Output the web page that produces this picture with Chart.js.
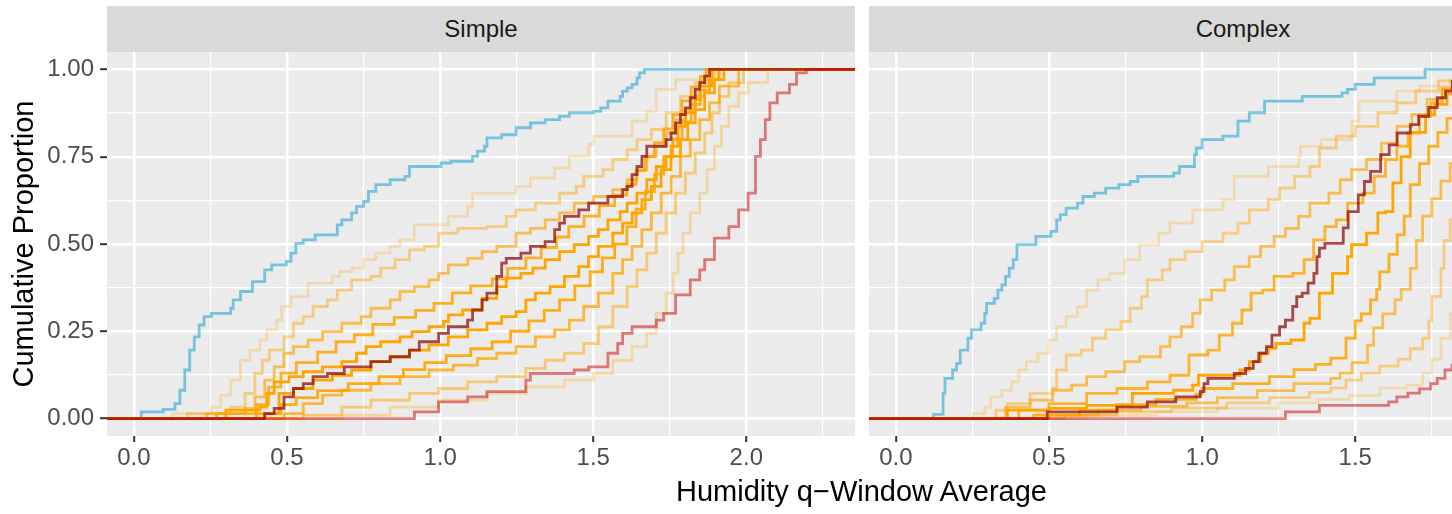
<!DOCTYPE html>
<html>
<head>
<meta charset="utf-8">
<script src="https://cdn.jsdelivr.net/npm/chart.js@4/dist/chart.umd.min.js"></script>
<style>
  html, body { margin: 0; padding: 0; background: #fff; overflow: hidden; }
  #wrap { position: relative; width: 1452px; height: 514px; overflow: hidden; font-family: "Liberation Sans", Arial, sans-serif; }
  canvas { position: absolute; top: 0; }
  .strip { position: absolute; top: 6px; height: 46px; width: 748px; background: #D9D9D9; color: #1A1A1A;
           font-size: 24px; line-height: 46px; text-align: center; }
  #xtitle { position: absolute; left: 461px; width: 801px; top: 474px; height: 34px; line-height: 34px;
            font-size: 29px; color: #000; text-align: center; white-space: nowrap; }
</style>
</head>
<body>
<div id="wrap">
  <div class="strip" style="left:107px">Simple</div>
  <div class="strip" style="left:869px">Complex</div>
  <canvas id="simpleChart" width="862" height="514" style="left:0"></canvas>
  <canvas id="complexChart" width="762" height="514" style="left:862px"></canvas>
  <div id="xtitle">Humidity q−Window Average</div>
</div>
<script>
// axis ticks
const xTicks = [0, 0.5, 1, 1.5, 2];
const xMinor = [0.25, 0.75, 1.25, 1.75, 2.25];
const yTicks = [0, 0.25, 0.5, 0.75, 1];
const yMinor = [0.125, 0.375, 0.625, 0.875];

// Simple panel: ECDF steps [x, cumulative proportion]
const simpleBlue = [[0.024,0.019],[0.095,0.026],[0.134,0.043],[0.150,0.081],[0.166,0.139],[0.182,0.196],[0.197,0.234],[0.213,0.268],[0.229,0.292],[0.253,0.301],[0.316,0.316],[0.324,0.340],[0.348,0.364],[0.387,0.392],[0.427,0.426],[0.450,0.440],[0.498,0.450],[0.513,0.474],[0.529,0.502],[0.553,0.512],[0.592,0.526],[0.664,0.555],[0.679,0.569],[0.711,0.589],[0.727,0.608],[0.750,0.622],[0.766,0.651],[0.790,0.670],[0.837,0.684],[0.885,0.694],[0.900,0.722],[1.003,0.732],[1.035,0.737],[1.106,0.751],[1.122,0.766],[1.145,0.780],[1.153,0.804],[1.201,0.813],[1.248,0.833],[1.295,0.847],[1.343,0.856],[1.390,0.866],[1.422,0.876],[1.501,0.880],[1.525,0.890],[1.548,0.909],[1.588,0.923],[1.596,0.938],[1.611,0.947],[1.627,0.957],[1.643,0.976],[1.651,0.990],[1.667,1.0]];
const simpleRed = [[0.916,0.019],[0.995,0.048],[1.090,0.062],[1.153,0.077],[1.280,0.110],[1.295,0.129],[1.438,0.139],[1.485,0.148],[1.548,0.187],[1.580,0.215],[1.596,0.244],[1.627,0.263],[1.706,0.282],[1.730,0.301],[1.769,0.354],[1.817,0.397],[1.848,0.426],[1.864,0.455],[1.896,0.517],[1.943,0.550],[1.975,0.598],[2.006,0.646],[2.030,0.751],[2.046,0.799],[2.062,0.856],[2.077,0.904],[2.101,0.933],[2.141,0.957],[2.164,0.990],[2.196,1.0]];
const simpleDarkRed = [[0.427,0.014],[0.458,0.029],[0.490,0.062],[0.521,0.086],[0.553,0.100],[0.585,0.120],[0.632,0.129],[0.687,0.148],[0.774,0.163],[0.837,0.177],[0.900,0.196],[0.932,0.220],[0.995,0.244],[1.027,0.263],[1.090,0.282],[1.106,0.311],[1.137,0.340],[1.153,0.359],[1.185,0.407],[1.201,0.445],[1.216,0.459],[1.264,0.474],[1.295,0.493],[1.343,0.507],[1.374,0.541],[1.390,0.560],[1.406,0.579],[1.453,0.598],[1.485,0.617],[1.548,0.636],[1.596,0.656],[1.611,0.665],[1.627,0.699],[1.643,0.722],[1.659,0.751],[1.675,0.780],[1.738,0.799],[1.754,0.818],[1.769,0.847],[1.785,0.871],[1.801,0.890],[1.817,0.919],[1.833,0.943],[1.848,0.962],[1.864,0.981],[1.880,1.0]];
const simpleOrange1 = [[0.126,0.014],[0.253,0.033],[0.284,0.067],[0.316,0.110],[0.348,0.167],[0.379,0.196],[0.411,0.225],[0.434,0.254],[0.466,0.282],[0.482,0.321],[0.513,0.349],[0.569,0.388],[0.648,0.407],[0.671,0.421],[0.711,0.431],[0.750,0.455],[0.790,0.474],[0.837,0.493],[0.869,0.512],[0.916,0.555],[1.027,0.579],[1.090,0.608],[1.106,0.646],[1.248,0.665],[1.295,0.689],[1.374,0.718],[1.422,0.751],[1.485,0.785],[1.501,0.809],[1.627,0.852],[1.675,0.880],[1.706,0.943],[1.769,0.971],[1.864,1.0]];
const simpleOrange2 = [[0.174,0.014],[0.316,0.033],[0.363,0.072],[0.395,0.129],[0.419,0.167],[0.442,0.196],[0.490,0.234],[0.521,0.273],[0.553,0.292],[0.585,0.321],[0.632,0.340],[0.664,0.368],[0.711,0.397],[0.774,0.407],[0.806,0.431],[0.853,0.455],[0.900,0.483],[0.948,0.493],[0.995,0.531],[1.058,0.545],[1.153,0.550],[1.216,0.579],[1.248,0.598],[1.311,0.617],[1.390,0.646],[1.445,0.665],[1.469,0.694],[1.532,0.713],[1.564,0.742],[1.611,0.770],[1.643,0.799],[1.690,0.828],[1.738,0.876],[1.785,0.923],[1.833,0.962],[1.896,1.0]];
const simpleOrange3 = [[0.237,0.014],[0.363,0.029],[0.395,0.062],[0.427,0.110],[0.458,0.148],[0.490,0.187],[0.521,0.206],[0.569,0.225],[0.616,0.249],[0.679,0.273],[0.742,0.292],[0.774,0.316],[0.837,0.340],[0.869,0.364],[0.916,0.378],[0.964,0.397],[0.995,0.416],[1.027,0.440],[1.090,0.459],[1.137,0.478],[1.185,0.493],[1.248,0.531],[1.295,0.545],[1.343,0.569],[1.390,0.589],[1.438,0.617],[1.501,0.636],[1.564,0.656],[1.611,0.684],[1.643,0.713],[1.675,0.751],[1.706,0.780],[1.738,0.818],[1.769,0.856],[1.801,0.885],[1.833,0.923],[1.864,0.971],[1.912,1.0]];
const simpleOrange4 = [[0.270,0.014],[0.400,0.040],[0.440,0.090],[0.480,0.130],[0.530,0.160],[0.600,0.190],[0.660,0.220],[0.720,0.240],[0.780,0.270],[0.850,0.290],[0.920,0.310],[0.980,0.330],[1.040,0.360],[1.100,0.380],[1.170,0.400],[1.220,0.430],[1.280,0.460],[1.330,0.490],[1.380,0.520],[1.420,0.550],[1.470,0.580],[1.520,0.610],[1.570,0.640],[1.610,0.670],[1.640,0.710],[1.670,0.750],[1.700,0.790],[1.730,0.830],[1.760,0.870],[1.790,0.910],[1.820,0.950],[1.850,0.980],[1.870,1.0]];
const simpleOrange5 = [[0.300,0.024],[0.411,0.033],[0.434,0.072],[0.458,0.105],[0.506,0.120],[0.553,0.134],[0.616,0.148],[0.679,0.163],[0.727,0.187],[0.758,0.206],[0.806,0.220],[0.869,0.234],[0.908,0.249],[0.964,0.263],[1.011,0.278],[1.027,0.297],[1.074,0.311],[1.137,0.344],[1.185,0.378],[1.216,0.402],[1.264,0.416],[1.303,0.431],[1.343,0.455],[1.390,0.478],[1.438,0.498],[1.485,0.522],[1.517,0.541],[1.548,0.569],[1.588,0.593],[1.611,0.617],[1.643,0.646],[1.675,0.684],[1.706,0.722],[1.738,0.751],[1.754,0.780],[1.777,0.837],[1.801,0.876],[1.833,0.914],[1.848,0.952],[1.888,1.0]];
const simpleOrange6 = [[0.427,0.014],[0.474,0.072],[0.521,0.086],[0.585,0.110],[0.648,0.124],[0.711,0.139],[0.774,0.163],[0.837,0.177],[0.900,0.196],[0.964,0.211],[1.027,0.234],[1.090,0.254],[1.153,0.273],[1.201,0.292],[1.248,0.306],[1.280,0.340],[1.311,0.359],[1.359,0.378],[1.406,0.407],[1.453,0.435],[1.485,0.464],[1.517,0.493],[1.564,0.531],[1.596,0.560],[1.627,0.589],[1.659,0.627],[1.690,0.665],[1.722,0.713],[1.754,0.751],[1.785,0.799],[1.809,0.847],[1.833,0.885],[1.864,0.933],[1.896,0.971],[1.927,1.0]];
const simpleOrange7 = [[0.400,0.014],[0.480,0.040],[0.530,0.060],[0.600,0.080],[0.700,0.100],[0.800,0.120],[0.880,0.140],[0.950,0.160],[1.020,0.180],[1.100,0.200],[1.170,0.220],[1.230,0.250],[1.290,0.280],[1.340,0.310],[1.390,0.340],[1.440,0.380],[1.490,0.420],[1.530,0.460],[1.570,0.500],[1.610,0.550],[1.640,0.600],[1.670,0.650],[1.700,0.700],[1.730,0.750],[1.760,0.800],[1.790,0.850],[1.820,0.900],[1.850,0.940],[1.880,0.970],[1.910,1.0]];
const simpleOrange8 = [[0.490,0.014],[0.553,0.043],[0.616,0.067],[0.679,0.081],[0.774,0.100],[0.869,0.120],[0.964,0.139],[1.043,0.153],[1.122,0.172],[1.185,0.187],[1.248,0.206],[1.311,0.234],[1.374,0.254],[1.422,0.282],[1.469,0.321],[1.517,0.359],[1.564,0.416],[1.596,0.455],[1.627,0.493],[1.659,0.541],[1.690,0.589],[1.722,0.646],[1.754,0.694],[1.785,0.751],[1.817,0.799],[1.848,0.856],[1.880,0.904],[1.912,0.952],[1.975,1.0]];
const simpleOrange9 = [[0.553,0.010],[0.679,0.033],[0.774,0.053],[0.900,0.072],[0.995,0.086],[1.090,0.105],[1.185,0.120],[1.280,0.144],[1.343,0.167],[1.406,0.187],[1.469,0.215],[1.517,0.263],[1.564,0.321],[1.611,0.378],[1.643,0.426],[1.675,0.474],[1.706,0.531],[1.738,0.589],[1.769,0.646],[1.801,0.703],[1.833,0.761],[1.864,0.818],[1.888,0.876],[1.912,0.923],[1.943,0.962],[1.991,1.0]];
const simpleOrange10 = [[0.679,0.010],[0.837,0.033],[0.995,0.053],[1.153,0.072],[1.280,0.091],[1.406,0.110],[1.501,0.129],[1.564,0.167],[1.627,0.206],[1.675,0.244],[1.706,0.301],[1.738,0.359],[1.761,0.416],[1.777,0.474],[1.793,0.531],[1.817,0.589],[1.848,0.646],[1.872,0.713],[1.896,0.780],[1.919,0.837],[1.943,0.895],[1.975,0.933],[2.006,0.962],[2.070,1.0]];

// Complex panel
const complexBlue = [[0.123,0.012],[0.154,0.072],[0.160,0.115],[0.185,0.139],[0.198,0.158],[0.210,0.196],[0.235,0.230],[0.247,0.254],[0.278,0.273],[0.290,0.301],[0.296,0.330],[0.321,0.344],[0.333,0.368],[0.346,0.383],[0.358,0.407],[0.370,0.431],[0.383,0.455],[0.395,0.498],[0.457,0.522],[0.506,0.536],[0.525,0.569],[0.537,0.584],[0.556,0.603],[0.593,0.617],[0.611,0.636],[0.648,0.646],[0.685,0.660],[0.728,0.670],[0.765,0.679],[0.790,0.694],[0.907,0.703],[0.926,0.722],[0.975,0.756],[0.981,0.775],[1.000,0.799],[1.068,0.809],[1.117,0.852],[1.154,0.876],[1.204,0.909],[1.327,0.923],[1.457,0.933],[1.475,0.943],[1.500,0.957],[1.562,0.976],[1.728,1.0]];
const complexRed = [[1.272,0.019],[1.383,0.038],[1.609,0.048],[1.636,0.062],[1.672,0.073],[1.710,0.085],[1.746,0.100],[1.768,0.115],[1.793,0.139],[1.816,0.153],[1.840,0.170]];
const complexDarkRed = [[0.494,0.019],[0.722,0.033],[0.821,0.048],[0.914,0.062],[0.994,0.077],[1.006,0.100],[1.019,0.115],[1.105,0.129],[1.142,0.144],[1.167,0.163],[1.185,0.187],[1.210,0.206],[1.228,0.239],[1.253,0.263],[1.272,0.282],[1.296,0.321],[1.309,0.349],[1.327,0.359],[1.346,0.388],[1.365,0.416],[1.375,0.464],[1.383,0.488],[1.401,0.502],[1.461,0.546],[1.477,0.593],[1.510,0.641],[1.530,0.679],[1.550,0.708],[1.583,0.756],[1.611,0.784],[1.637,0.818],[1.680,0.842],[1.707,0.866],[1.740,0.891],[1.768,0.919],[1.795,0.938],[1.817,0.966],[1.840,0.990]];
const complexOrange1 = [[0.253,0.014],[0.290,0.033],[0.309,0.062],[0.346,0.081],[0.377,0.105],[0.401,0.139],[0.426,0.163],[0.463,0.187],[0.500,0.225],[0.525,0.263],[0.556,0.292],[0.593,0.321],[0.623,0.368],[0.660,0.397],[0.698,0.416],[0.747,0.455],[0.796,0.498],[0.858,0.531],[0.895,0.560],[0.969,0.598],[1.068,0.627],[1.105,0.694],[1.216,0.722],[1.315,0.751],[1.321,0.780],[1.389,0.799],[1.488,0.852],[1.512,0.909],[1.636,0.938],[1.710,0.952],[1.809,0.971]];
const complexOrange2 = [[0.327,0.024],[0.364,0.043],[0.438,0.072],[0.512,0.086],[0.525,0.139],[0.556,0.182],[0.605,0.196],[0.642,0.230],[0.685,0.254],[0.735,0.278],[0.765,0.316],[0.802,0.349],[0.821,0.397],[0.870,0.426],[0.895,0.455],[0.944,0.478],[1.000,0.507],[1.068,0.531],[1.117,0.560],[1.154,0.598],[1.216,0.627],[1.253,0.660],[1.302,0.694],[1.352,0.722],[1.383,0.775],[1.438,0.809],[1.500,0.837],[1.574,0.876],[1.636,0.904],[1.698,0.938],[1.772,0.967]];
const complexOrange3 = [[0.358,0.033],[0.438,0.053],[0.512,0.081],[0.574,0.096],[0.623,0.120],[0.685,0.134],[0.747,0.163],[0.796,0.177],[0.864,0.206],[0.895,0.234],[0.932,0.263],[0.969,0.301],[0.994,0.340],[1.031,0.368],[1.074,0.397],[1.105,0.435],[1.154,0.464],[1.191,0.493],[1.235,0.522],[1.272,0.545],[1.315,0.579],[1.352,0.617],[1.414,0.646],[1.451,0.684],[1.488,0.713],[1.537,0.742],[1.586,0.789],[1.636,0.837],[1.685,0.871],[1.735,0.914],[1.784,0.947]];
const complexOrange4 = [[0.401,0.024],[0.500,0.043],[0.623,0.072],[0.722,0.086],[0.821,0.105],[0.895,0.124],[0.957,0.182],[1.019,0.196],[1.056,0.239],[1.099,0.273],[1.130,0.311],[1.160,0.359],[1.198,0.368],[1.235,0.407],[1.296,0.416],[1.333,0.455],[1.364,0.512],[1.401,0.550],[1.438,0.569],[1.475,0.617],[1.525,0.646],[1.562,0.694],[1.599,0.742],[1.636,0.780],[1.673,0.818],[1.710,0.866],[1.747,0.904],[1.784,0.943]];
const complexOrange5 = [[0.364,0.024],[0.500,0.029],[0.623,0.038],[0.772,0.072],[0.907,0.081],[0.969,0.096],[0.988,0.124],[1.123,0.139],[1.154,0.163],[1.191,0.187],[1.216,0.201],[1.241,0.215],[1.290,0.225],[1.333,0.273],[1.352,0.287],[1.383,0.359],[1.426,0.416],[1.475,0.464],[1.488,0.498],[1.537,0.531],[1.574,0.589],[1.599,0.593],[1.623,0.675],[1.650,0.750],[1.680,0.820],[1.730,0.870],[1.760,0.900],[1.800,0.930]];
const complexOrange6 = [[0.450,0.010],[0.600,0.024],[0.720,0.040],[0.850,0.055],[0.980,0.070],[1.000,0.086],[1.100,0.100],[1.220,0.120],[1.300,0.140],[1.370,0.155],[1.420,0.173],[1.470,0.230],[1.500,0.280],[1.520,0.300],[1.550,0.340],[1.570,0.370],[1.580,0.420],[1.610,0.470],[1.637,0.526],[1.660,0.580],[1.680,0.670],[1.710,0.730],[1.740,0.780],[1.770,0.820],[1.800,0.860],[1.830,0.900]];
const complexOrange7 = [[0.500,0.010],[0.660,0.024],[0.800,0.035],[0.950,0.045],[1.050,0.060],[1.180,0.080],[1.300,0.100],[1.420,0.115],[1.450,0.130],[1.490,0.160],[1.540,0.210],[1.560,0.260],[1.590,0.300],[1.630,0.340],[1.650,0.370],[1.680,0.430],[1.700,0.510],[1.720,0.580],[1.750,0.630],[1.780,0.680],[1.810,0.730],[1.830,0.780]];
const complexOrange8 = [[0.550,0.010],[0.720,0.020],[0.900,0.030],[1.080,0.045],[1.220,0.060],[1.350,0.075],[1.420,0.087],[1.470,0.110],[1.520,0.130],[1.580,0.150],[1.640,0.170],[1.680,0.200],[1.720,0.230],[1.740,0.280],[1.750,0.350],[1.780,0.430],[1.790,0.510],[1.810,0.570],[1.830,0.600]];
const complexOrange9 = [[0.620,0.010],[0.850,0.020],[1.050,0.030],[1.250,0.045],[1.380,0.055],[1.480,0.066],[1.580,0.087],[1.670,0.096],[1.720,0.130],[1.750,0.170],[1.780,0.230],[1.810,0.300],[1.830,0.350]];

// styles
const ORANGE = '255,165,0';
const simpleOrangeAlpha = [0.25, 0.45, 0.65, 0.85, 1, 1, 0.9, 0.75, 0.5, 0.3];
const complexOrangeAlpha = [0.25, 0.45, 0.65, 0.8, 1, 0.85, 0.65, 0.45, 0.25];
const BLUE = 'rgba(0,154,205,0.5)';
const RED = 'rgba(205,0,0,0.5)';
const DARKRED = 'rgba(139,0,0,0.7)';
const FONT = '"Liberation Sans", Arial, sans-serif';

function stepLine(points, color) {
  // ECDF padded to both sides of the panel
  const data = [{x: -1, y: 0}].concat(points.map(p => ({x: p[0], y: p[1]})), [{x: 3, y: 1}]);
  return { data, borderColor: color, borderWidth: 2.8, pointRadius: 0, stepped: true, fill: false, clip: 0 };
}

function buildSets(blue, red, darkRed, oranges, alphas) {
  const sets = [stepLine(red, RED), stepLine(darkRed, DARKRED)];
  // stronger oranges drawn on top, blue underneath everything
  const idx = oranges.map((o, i) => i).sort((a, b) => alphas[b] - alphas[a]);
  idx.forEach(i => sets.push(stepLine(oranges[i], 'rgba(' + ORANGE + ',' + alphas[i] + ')')));
  sets.push(stepLine(blue, BLUE));
  return sets;
}

const panelBg = {
  id: 'panelBg',
  beforeDraw(chart) {
    const {ctx, chartArea: a} = chart;
    ctx.save();
    ctx.fillStyle = '#EBEBEB';
    ctx.fillRect(a.left, a.top, a.right - a.left, a.bottom - a.top);
    ctx.restore();
  }
};

function makePanel(id, datasets, showY) {
  const ctx = document.getElementById(id).getContext('2d');
  return new Chart(ctx, {
    type: 'line',
    data: { datasets },
    plugins: [panelBg],
    options: {
      responsive: false,
      animation: false,
      events: [],
      layout: { padding: { left: 0, top: 52, right: 7, bottom: 0 } },
      plugins: { legend: { display: false }, tooltip: { enabled: false } },
      scales: {
        x: {
          type: 'linear', min: -0.088, max: 2.355,
          afterBuildTicks: s => { s.ticks = xTicks.concat(xMinor).sort((a, b) => a - b).map(v => ({value: v})); },
          afterFit: s => { s.height = 78; },
          border: { display: false },
          grid: {
            color: '#FFFFFF',
            lineWidth: c => xTicks.includes(c.tick.value) ? 2.4 : 1.2,
            tickLength: 6, tickWidth: 2,
            tickColor: c => xTicks.includes(c.tick.value) ? '#333333' : 'rgba(0,0,0,0)'
          },
          ticks: {
            autoSkip: false, maxRotation: 0, padding: 2, color: '#4D4D4D',
            font: { family: FONT, size: 24 },
            callback: v => xTicks.includes(v) ? v.toFixed(1) : ''
          }
        },
        y: {
          type: 'linear', min: -0.05, max: 1.05,
          afterBuildTicks: s => { s.ticks = yTicks.concat(yMinor).sort((a, b) => a - b).map(v => ({value: v})); },
          afterFit: s => { s.width = showY ? 107 : 7; },
          border: { display: false },
          grid: {
            color: '#FFFFFF',
            lineWidth: c => yTicks.includes(c.tick.value) ? 2.4 : 1.2,
            drawTicks: showY, tickLength: 7, tickWidth: 2,
            tickColor: c => yTicks.includes(c.tick.value) ? '#333333' : 'rgba(0,0,0,0)'
          },
          ticks: {
            display: showY, autoSkip: false, padding: 6, color: '#4D4D4D',
            font: { family: FONT, size: 24 },
            callback: v => yTicks.includes(v) ? v.toFixed(2) : ''
          },
          title: {
            display: showY, text: 'Cumulative Proportion', color: '#000000',
            font: { family: FONT, size: 29 }, padding: { top: 8, bottom: 0 }
          }
        }
      }
    }
  });
}

const simpleChart = makePanel('simpleChart',
  buildSets(simpleBlue, simpleRed, simpleDarkRed,
    [simpleOrange1, simpleOrange2, simpleOrange3, simpleOrange4, simpleOrange5, simpleOrange6, simpleOrange7, simpleOrange8, simpleOrange9, simpleOrange10],
    simpleOrangeAlpha), true);

const complexChart = makePanel('complexChart',
  buildSets(complexBlue, complexRed, complexDarkRed,
    [complexOrange1, complexOrange2, complexOrange3, complexOrange4, complexOrange5, complexOrange6, complexOrange7, complexOrange8, complexOrange9],
    complexOrangeAlpha), false);
</script>
</body>
</html>
